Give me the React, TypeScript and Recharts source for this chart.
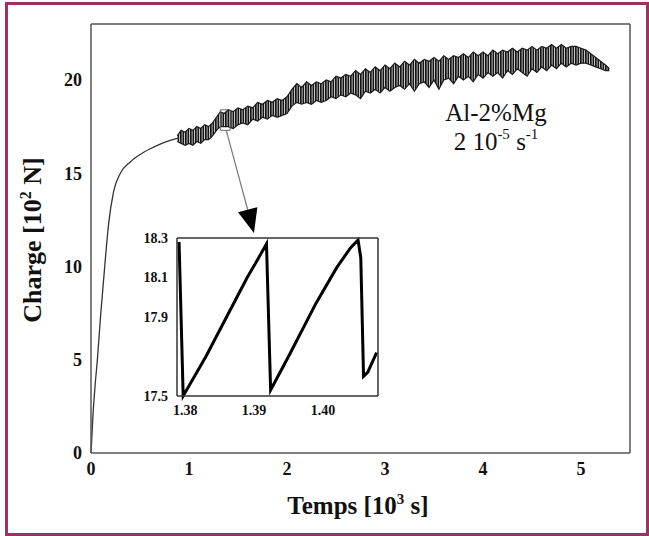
import React from 'react'
import {
  ComposedChart,
  LineChart,
  Line,
  Area,
  XAxis,
  YAxis,
  ReferenceArea,
  ReferenceLine,
  Label,
} from 'recharts'

// courbe de montée (avant les serrations)
const riseTime = [0, 0.01, 0.02, 0.04, 0.065, 0.1, 0.14, 0.18, 0.23, 0.3, 0.4, 0.5, 0.6, 0.7, 0.8, 0.9]
const riseLoad = [0, 1.0, 2.0, 3.5, 5.0, 7.5, 10.0, 12.3, 14.0, 15.0, 15.6, 16.0, 16.3, 16.55, 16.75, 16.9]

// bande dentelée (effet Portevin-Le Chatelier) : enveloppes basse / haute
const bandTime = [
  0.88, 0.92, 0.96, 1.0, 1.04, 1.08, 1.12, 1.16, 1.2, 1.24, 1.28, 1.32, 1.36, 1.4, 1.45, 1.5, 1.55, 1.6, 1.65, 1.7,
  1.75, 1.8, 1.85, 1.9, 1.95, 2.0, 2.05, 2.1, 2.15, 2.2, 2.25, 2.3, 2.35, 2.4, 2.45, 2.5, 2.55, 2.6, 2.65, 2.7,
  2.75, 2.8, 2.85, 2.9, 2.95, 3.0, 3.05, 3.1, 3.15, 3.2, 3.25, 3.3, 3.35, 3.4, 3.45, 3.5, 3.55, 3.6, 3.65, 3.7,
  3.75, 3.8, 3.85, 3.9, 3.95, 4.0, 4.05, 4.1, 4.15, 4.2, 4.25, 4.3, 4.35, 4.4, 4.45, 4.5, 4.55, 4.6, 4.65, 4.7,
  4.75, 4.8, 4.85, 4.9, 4.95, 5.0, 5.05, 5.1, 5.15, 5.2, 5.25, 5.29,
]
const bandLow = [
  16.7, 16.6, 16.5, 16.6, 16.5, 16.7, 16.6, 16.8, 16.8, 17.0, 17.3, 17.5, 17.5, 17.5, 17.4, 17.6, 17.7, 17.6, 17.9, 17.8,
  18.0, 17.9, 18.1, 18.0, 18.1, 18.2, 18.6, 18.8, 18.7, 18.8, 18.7, 18.9, 18.8, 18.9, 19.1, 19.0, 19.2, 19.1, 19.3, 19.2,
  19.0, 19.4, 19.3, 19.5, 19.3, 19.6, 19.4, 19.6, 19.7, 19.5, 19.8, 19.4, 19.8, 19.9, 19.6, 20.0, 19.5, 20.0, 20.1, 19.8,
  20.2, 20.0, 20.2, 19.9, 20.3, 20.1, 20.4, 20.2, 20.4, 20.1, 20.5, 20.3, 20.6, 20.4, 20.2, 20.6, 20.4, 20.7, 20.5, 20.8,
  20.6, 20.9, 20.7, 20.9, 20.8, 20.9, 20.9, 20.8, 20.7, 20.6, 20.5, 20.5,
]
const bandHigh = [
  17.0, 17.3, 17.2, 17.4, 17.3, 17.5, 17.4, 17.6, 17.5, 17.7, 18.0, 18.3, 18.2, 18.4, 18.3, 18.5, 18.4, 18.6, 18.5, 18.8,
  18.7, 18.9, 18.8, 19.0, 18.9, 19.1, 19.5, 19.8, 19.6, 19.9, 19.7, 19.9, 19.8, 20.0, 19.9, 20.2, 20.1, 20.3, 20.2, 20.5,
  20.3, 20.6, 20.4, 20.7, 20.5, 20.8, 20.6, 20.9, 20.7, 21.0, 20.8, 21.1, 20.9, 21.1, 21.0, 21.2, 21.0, 21.3, 21.1, 21.3,
  21.2, 21.4, 21.2, 21.5, 21.3, 21.5, 21.3, 21.6, 21.4, 21.6, 21.5, 21.7, 21.5, 21.7, 21.6, 21.8, 21.6, 21.8, 21.7, 21.9,
  21.7, 21.9, 21.7, 21.8, 21.8, 21.7, 21.6, 21.4, 21.2, 21.0, 20.8, 20.6,
]

// zoom (encart)
const insetTime = [1.3791, 1.3797, 1.383, 1.386, 1.389, 1.3905, 1.3918, 1.3924, 1.395, 1.399, 1.402, 1.404, 1.4051, 1.4055, 1.4059, 1.4065, 1.4078]
const insetLoad = [18.28, 17.5, 17.7, 17.9, 18.1, 18.19, 18.27, 17.53, 17.7, 17.97, 18.15, 18.25, 18.29, 18.2, 17.6, 17.62, 17.72]

const mainXTicks = [0, 0.5, 1, 1.5, 2, 2.5, 3, 3.5, 4, 4.5, 5]
const mainYTicks = [0, 5, 10, 15, 20]
const insetXTicks = [1.38, 1.385, 1.39, 1.395, 1.4, 1.405]
const insetXLabels = [1.38, 1.39, 1.4]
const insetYTicks = [17.5, 17.6, 17.7, 17.8, 17.9, 18.0, 18.1, 18.2, 18.3]
const insetYLabels = [17.5, 17.9, 18.1, 18.3]

const riseData = riseTime.map((t, i) => ({ t, load: riseLoad[i] }))
const bandData = bandTime.map((t, i) => ({ t, range: [bandLow[i], bandHigh[i]] }))
const insetData = insetTime.map((t, i) => ({ t, load: insetLoad[i] }))

const serif = "'Liberation Serif', 'Times New Roman', serif"
const axisColor = '#555'
const mainXDomain = [0, 5.5]
const mainYDomain = [0, 23]
const insetXDomain = [1.3788, 1.408]
const insetYDomain = [17.5, 18.3]

const hasValue = (list: number[], v: number) => list.some(l => Math.abs(l - v) < 1e-6)
const blank = () => ''

function ArrowShape(p: any) {
  const { x1, y1, x2, y2 } = p
  const dx = x2 - x1
  const dy = y2 - y1
  const len = Math.hypot(dx, dy) || 1
  const ux = dx / len
  const uy = dy / len
  const head = 24
  const half = 10
  const bx = x2 - ux * head
  const by = y2 - uy * head
  const pts = `${x2},${y2} ${bx + uy * half},${by - ux * half} ${bx - uy * half},${by + ux * half}`
  return (
    <g>
      <line x1={x1} y1={y1} x2={bx} y2={by} stroke="#777" strokeWidth={1.2} />
      <polygon points={pts} fill="#000" />
    </g>
  )
}

const XTitle = () => (
  <text x={358} y={514} textAnchor="middle" fontFamily={serif} fontSize={25} fontWeight={700} fill="#111">
    <tspan>Temps [10</tspan>
    <tspan dy={-10} fontSize={15}>3</tspan>
    <tspan dy={10}> s]</tspan>
  </text>
)

const YTitle = () => (
  <text
    x={41}
    y={240}
    transform="rotate(-90 41 240)"
    textAnchor="middle"
    fontFamily={serif}
    fontSize={26}
    fontWeight={700}
    fill="#111"
  >
    <tspan>Charge [10</tspan>
    <tspan dy={-10} fontSize={16}>2</tspan>
    <tspan dy={10}> N]</tspan>
  </text>
)

const mainTick = { fontFamily: serif, fontSize: 18, fontWeight: 700, fill: '#111' }
const insetTick = { fontFamily: serif, fontSize: 14, fontWeight: 600, fill: '#111' }

export default function App() {
  return (
    <div style={{ position: 'absolute', left: 0, top: 0, width: 649, height: 536, background: '#fff', overflow: 'hidden' }}>
      <div
        style={{
          position: 'absolute',
          left: 5,
          top: 2,
          width: 644,
          height: 534,
          boxSizing: 'border-box',
          border: '3px solid #9c3163',
        }}
      />
      <div style={{ position: 'absolute', left: 0, top: 0 }}>
        <ComposedChart width={649} height={536} margin={{ top: 24, right: 19, bottom: 0, left: 0 }}>
          <defs>
            <pattern id="striation" width={2.5} height={6} patternUnits="userSpaceOnUse">
              <rect x={0} y={0} width={1.8} height={6} fill="#151515" />
            </pattern>
          </defs>
          {/* axes porteurs des étiquettes */}
          <XAxis
            dataKey="t"
            type="number"
            domain={mainXDomain}
            ticks={mainXTicks}
            interval={0}
            height={83}
            tickMargin={3}
            tick={mainTick}
            tickFormatter={(v: number) => (Number.isInteger(v) ? String(v) : '')}
            axisLine={false}
            tickLine={false}
          >
            <Label content={XTitle} />
          </XAxis>
          <YAxis
            type="number"
            domain={mainYDomain}
            ticks={mainYTicks}
            interval={0}
            width={91}
            tickMargin={3}
            tick={mainTick}
            axisLine={false}
            tickLine={false}
          >
            <Label content={YTitle} />
          </YAxis>
          {/* cadre avec graduations intérieures */}
          <XAxis xAxisId="bt" orientation="bottom" mirror type="number" dataKey="t" domain={mainXDomain} ticks={mainXTicks}
            interval={0} height={10} tickSize={5} tickFormatter={blank} axisLine={{ stroke: axisColor, strokeWidth: 1.5 }} tickLine={{ stroke: axisColor }} />
          <XAxis xAxisId="tp" orientation="top" mirror type="number" dataKey="t" domain={mainXDomain} ticks={mainXTicks}
            interval={0} height={10} tickSize={5} tickFormatter={blank} axisLine={{ stroke: axisColor, strokeWidth: 1.5 }} tickLine={{ stroke: axisColor }} />
          <YAxis yAxisId="lf" orientation="left" mirror type="number" domain={mainYDomain} ticks={mainYTicks}
            interval={0} width={10} tickSize={5} tickFormatter={blank} axisLine={{ stroke: axisColor, strokeWidth: 1.5 }} tickLine={{ stroke: axisColor }} />
          <YAxis yAxisId="rt" orientation="right" mirror type="number" domain={mainYDomain} ticks={mainYTicks}
            interval={0} width={10} tickSize={5} tickFormatter={blank} axisLine={{ stroke: axisColor, strokeWidth: 1.5 }} tickLine={{ stroke: axisColor }} />
          <Line
            data={riseData}
            dataKey="load"
            type="monotone"
            stroke="#333"
            strokeWidth={1.3}
            dot={false}
            isAnimationActive={false}
          />
          <Area
            data={bandData}
            dataKey="range"
            type="linear"
            stroke="#1a1a1a"
            strokeWidth={1.2}
            fill="url(#striation)"
            fillOpacity={1}
            isAnimationActive={false}
          />
          <ReferenceArea x1={1.32} x2={1.42} y1={17.3} y2={18.4} fill="none" stroke="#666" strokeWidth={1} ifOverflow="visible" />
          <ReferenceLine
            segment={[{ x: 1.38, y: 17.3 }, { x: 1.663, y: 11.8 }]}
            shape={ArrowShape}
            ifOverflow="visible"
          />
        </ComposedChart>
      </div>

      <div
        style={{
          position: 'absolute',
          left: 445,
          top: 98,
          width: 102,
          textAlign: 'center',
          fontFamily: serif,
          fontSize: 25,
          lineHeight: '29px',
          color: '#111',
        }}
      >
        <div>Al-2%Mg</div>
        <div>
          2 10<sup style={{ fontSize: 15, verticalAlign: 'top', lineHeight: '15px' }}>-5</sup> s
          <sup style={{ fontSize: 15, verticalAlign: 'top', lineHeight: '15px' }}>-1</sup>
        </div>
      </div>

      <div style={{ position: 'absolute', left: 120, top: 228 }}>
        <LineChart width={263} height={190} margin={{ top: 10, right: 5, bottom: 0, left: 0 }}>
          <XAxis
            dataKey="t"
            type="number"
            domain={insetXDomain}
            ticks={insetXTicks}
            interval={0}
            height={22}
            tickMargin={3}
            tick={insetTick}
            tickFormatter={(v: number) => (hasValue(insetXLabels, v) ? v.toFixed(2) : '')}
            axisLine={false}
            tickLine={false}
          />
          <YAxis
            type="number"
            domain={insetYDomain}
            ticks={insetYTicks}
            interval={0}
            width={57}
            tickMargin={3}
            tick={insetTick}
            tickFormatter={(v: number) => (hasValue(insetYLabels, v) ? v.toFixed(1) : '')}
            axisLine={false}
            tickLine={false}
          />
          <XAxis xAxisId="bt" orientation="bottom" mirror type="number" dataKey="t" domain={insetXDomain} ticks={insetXTicks}
            interval={0} height={8} tickSize={4} tickFormatter={blank} axisLine={{ stroke: '#333', strokeWidth: 1.5 }} tickLine={{ stroke: '#555' }} />
          <XAxis xAxisId="tp" orientation="top" mirror type="number" dataKey="t" domain={insetXDomain} ticks={insetXTicks}
            interval={0} height={8} tickSize={4} tickFormatter={blank} axisLine={{ stroke: '#333', strokeWidth: 1.5 }} tickLine={{ stroke: '#555' }} />
          <YAxis yAxisId="lf" orientation="left" mirror type="number" domain={insetYDomain} ticks={insetYTicks}
            interval={0} width={8} tickSize={4} tickFormatter={blank} axisLine={{ stroke: '#333', strokeWidth: 1.5 }} tickLine={{ stroke: '#555' }} />
          <YAxis yAxisId="rt" orientation="right" mirror type="number" domain={insetYDomain} ticks={insetYTicks}
            interval={0} width={8} tickSize={4} tickFormatter={blank} axisLine={{ stroke: '#333', strokeWidth: 1.5 }} tickLine={{ stroke: '#555' }} />
          <Line
            data={insetData}
            dataKey="load"
            type="linear"
            stroke="#000"
            strokeWidth={3}
            dot={false}
            isAnimationActive={false}
          />
        </LineChart>
      </div>
    </div>
  )
}
